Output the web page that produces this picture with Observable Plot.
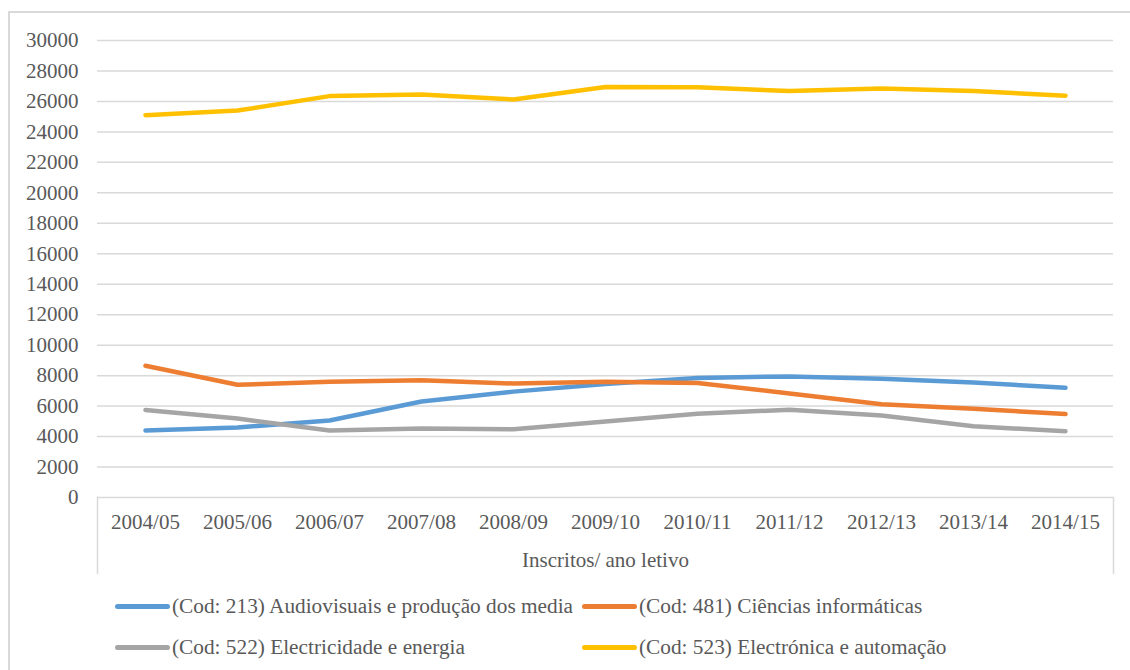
<!DOCTYPE html>
<html>
<head>
<meta charset="utf-8">
<script src="https://cdn.jsdelivr.net/npm/d3@7"></script>
<script src="https://cdn.jsdelivr.net/npm/@observablehq/plot@0.6"></script>
<style>
  html, body { margin: 0; padding: 0; background: #fff; }
  #wrap { position: relative; width: 1130px; height: 670px; overflow: hidden; font-family: "Liberation Serif", "Times New Roman", serif; }
  #border { position: absolute; left: 8px; top: 11px; width: 1200px; height: 700px; border-left: 2px solid #d9d9d9; border-top: 2px solid #d9d9d9; box-sizing: border-box; }
  #chart { position: absolute; left: 0; top: 0; }
  .leg { position: absolute; display: flex; align-items: center; font-family: "Liberation Serif", serif; font-size: 21.3px; color: #595959; white-space: nowrap; }
  .sw { width: 55px; height: 5px; border-radius: 3px; margin-right: 2px; }
</style>
</head>
<body>
<div id="wrap">
  <div id="border"></div>
  <div id="chart"></div>
  <div id="legend"></div>
</div>
<script>
const years = ["2004/05","2005/06","2006/07","2007/08","2008/09","2009/10","2010/11","2011/12","2012/13","2013/14","2014/15"];
const seriesNames = [
  "(Cod: 213) Audiovisuais e produção dos media",
  "(Cod: 481) Ciências informáticas",
  "(Cod: 522) Electricidade e energia",
  "(Cod: 523) Electrónica e automação"
];
const seriesColors = ["#5b9bd5", "#ed7d31", "#a5a5a5", "#ffc000"];
const audiovisuais = [4400, 4600, 5050, 6300, 6950, 7450, 7850, 7950, 7800, 7550, 7200];
const informaticas = [8650, 7400, 7600, 7700, 7480, 7600, 7520, 6830, 6120, 5830, 5480];
const electricidade = [5750, 5180, 4400, 4530, 4480, 4990, 5500, 5760, 5380, 4680, 4350];
const electronica = [25100, 25400, 26350, 26450, 26130, 26950, 26930, 26680, 26850, 26680, 26380];
const yTicks = d3.range(0, 30001, 2000);

const allValues = [audiovisuais, informaticas, electricidade, electronica];
const data = [];
allValues.forEach((vals, si) => {
  vals.forEach((v, i) => data.push({year: years[i], value: v, series: seriesNames[si]}));
});

const font = '"Liberation Serif", "Times New Roman", serif';
const chart = Plot.plot({
  width: 1130,
  height: 580,
  marginLeft: 97,
  marginRight: 17,
  marginTop: 40,
  marginBottom: 83,
  style: {fontFamily: font, fontSize: "21px", color: "#595959", background: "transparent"},
  x: {type: "point", domain: years, padding: 0.5},
  y: {domain: [0, 30000]},
  color: {domain: seriesNames, range: seriesColors},
  marks: [
    Plot.gridY(yTicks, {stroke: "#d9d9d9", strokeOpacity: 1, strokeWidth: 1.5}),
    Plot.axisY(yTicks, {tickSize: 0, tickPadding: 19, tickFormat: d3.format("d"), label: null, fontSize: 21, fill: "#595959"}),
    Plot.axisX({tickSize: 0, tickPadding: 17, label: "Inscritos/ ano letivo", labelAnchor: "center", labelArrow: "none", labelOffset: 69, fontSize: 21, fill: "#595959"}),
    Plot.frame({anchor: "left", stroke: "#d9d9d9", strokeWidth: 1.5, insetTop: 457, insetBottom: -76}),
    Plot.frame({anchor: "right", stroke: "#d9d9d9", strokeWidth: 1.5, insetTop: 457, insetBottom: -76}),
    Plot.line(data, {x: "year", y: "value", z: "series", stroke: "series", strokeWidth: 4.5, strokeLinecap: "round", strokeLinejoin: "round"})
  ]
});
document.getElementById("chart").appendChild(chart);

const legendPos = [
  {left: 115, top: 606}, {left: 582, top: 606},
  {left: 115, top: 647}, {left: 582, top: 647}
];
const leg = document.getElementById("legend");
seriesNames.forEach((name, i) => {
  const d = document.createElement("div");
  d.className = "leg";
  d.style.left = legendPos[i].left + "px";
  d.style.top = (legendPos[i].top - 12) + "px";
  d.style.height = "24px";
  const sw = document.createElement("div");
  sw.className = "sw";
  sw.style.background = seriesColors[i];
  const t = document.createElement("span");
  t.textContent = name;
  d.appendChild(sw); d.appendChild(t);
  leg.appendChild(d);
});
</script>
</body>
</html>
